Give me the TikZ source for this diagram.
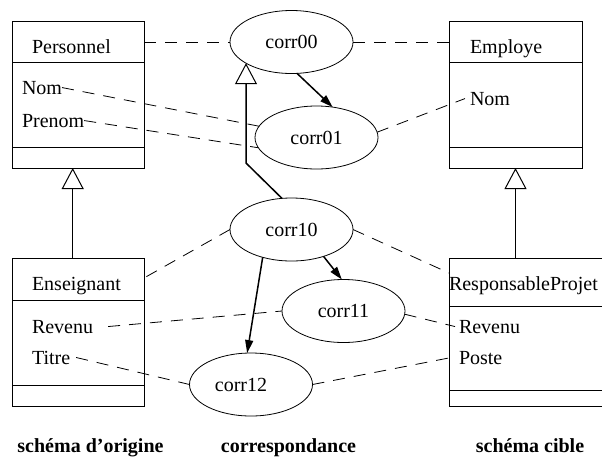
\documentclass[tikz,border=0pt]{standalone}
\usepackage{fontspec}
\setmainfont{Liberation Serif}
\usetikzlibrary{arrows.meta,shapes.geometric}
\begin{document}
\begin{tikzpicture}[x=1pt,y=-1pt,
  every node/.style={font=\fontsize{20}{24}\selectfont, inner sep=0pt, outer sep=0pt},
  classbox/.style={draw, line width=0.8pt, rectangle, anchor=north west, minimum width=132pt},
  corrnode/.style={draw, ellipse, line width=0.8pt, minimum width=123pt, minimum height=63pt, inner sep=0pt},
  attr/.style={anchor=base west},
  corrlink/.style={line width=0.8pt, dash pattern=on 12pt off 9pt},
  mapping/.style={line width=1.5pt, -{Triangle[length=13pt,width=8pt]}},
  inherit/.style={line width=1.5pt, -{Triangle[open,length=21pt,width=22pt,line width=1pt]}},
  sepline/.style={line width=0.8pt},
  caption/.style={font=\fontsize{20}{24}\selectfont\bfseries, anchor=base}
]
\useasboundingbox (0,0) rectangle (602,456);
\clip (0,0) rectangle (602,456);

% class boxes
\node[classbox, minimum height=147pt] (P) at (12,21) {};
\node[classbox, minimum height=147pt, minimum width=133pt] (E) at (449,21) {};
\node[classbox, minimum height=148pt] (Ens) at (12,258) {};
\node[classbox, minimum height=148pt, minimum width=156pt] (RP) at (449,258) {};

% separators
\draw[sepline] ([yshift=-41.7pt]P.north west) -- ([yshift=-41.7pt]P.north east);
\draw[sepline] ([yshift=-126.7pt]P.north west) -- ([yshift=-126.7pt]P.north east);
\draw[sepline] ([yshift=-41.7pt]E.north west) -- ([yshift=-41.7pt]E.north east);
\draw[sepline] ([yshift=-126.7pt]E.north west) -- ([yshift=-126.7pt]E.north east);
\draw[sepline] ([yshift=-42pt]Ens.north west) -- ([yshift=-42pt]Ens.north east);
\draw[sepline] ([yshift=-127pt]Ens.north west) -- ([yshift=-127pt]Ens.north east);
\draw[sepline] ([yshift=-48pt]RP.north west) -- ([yshift=-48pt]RP.north east);
\draw[sepline] ([yshift=-132pt]RP.north west) -- ([yshift=-132pt]RP.north east);

% texts in boxes
\node[attr] (ptitle) at (32,53) {Personnel};
\node[attr] (pnom) at (22,94) {Nom};
\node[attr] (pprenom) at (22,127) {Prenom};
\node[attr] (etitle) at (470,53) {Employe};
\node[attr] (enom) at (470,105) {Nom};
\node[attr] (enstitle) at (32,290) {Enseignant};
\node[attr] (ensrev) at (32,333) {Revenu};
\node[attr] (enstitre) at (32,364) {Titre};
\node[attr] (rptitle) at (449,290) {ResponsableProjet};
\node[attr] (rprev) at (459,333) {Revenu};
\node[attr] (rpposte) at (459,364) {Poste};

% correspondences
\node[corrnode] (c00) at (291.5,42) {corr00};
\node[corrnode] (c01) at (316.5,137.5) {corr01};
\node[corrnode] (c10) at (291.5,229.5) {corr10};
\node[corrnode] (c11) at (343.5,311) {corr11};
\node[corrnode] (c12) at (251,384.5) {\hspace*{-20pt}corr12};

% dashed links
\draw[corrlink] (P.east |- c00.west) -- (c00.west);
\draw[corrlink] (c00.east) -- (E.west |- c00.east);
\draw[corrlink] (pnom.east) -- (c01);
\draw[corrlink] (pprenom.east) -- (c01.190);
\draw[corrlink] (c01.5) -- ([xshift=-5pt]enom.west);
\draw[corrlink] (c10.west) -- ([yshift=-20pt]Ens.north east);
\draw[corrlink] (c10.east) -- ([yshift=-15pt]RP.north west);
\draw[corrlink] ([xshift=15pt]ensrev.east) -- (c11.west);
\draw[corrlink] ([xshift=6pt]enstitre.east) -- (c12.west);
\draw[corrlink] (c11.-3) -- ([xshift=-4pt]rprev.west);
\draw[corrlink] (c12.east) -- ([xshift=-8pt]rpposte.west);

% mapping arrows
\draw[mapping] (c00.-80) -- (c01.62);
\draw[mapping] (c10.-40) -- (c11.93);
\draw[mapping] (c10.-136) -- (c12.97);

% inheritance
\coordinate (bend) at (246,163);
\draw[inherit] (c10.107) -- (bend) -- (bend |- c00.-155);
\draw[inherit] ([xshift=-5.3pt]Ens.north) -- ([xshift=-5.3pt]P.south);
\draw[inherit] (E.south |- RP.north) -- (E.south);

% captions
\node[caption] (cap1) at (90.5,452) {schéma d'origine};
\node[caption] (cap2) at (288.5,452) {correspondance};
\node[caption] (cap3) at (530,452) {schéma cible};
\end{tikzpicture}
\end{document}
